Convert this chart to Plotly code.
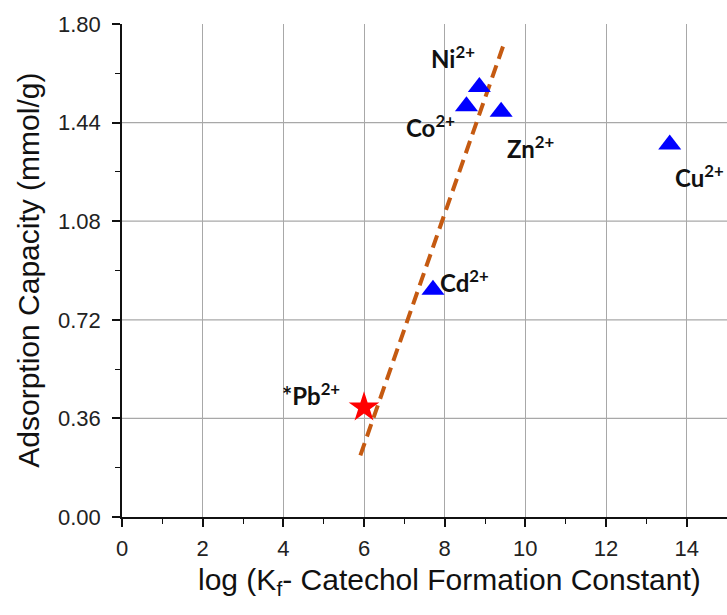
import plotly.graph_objects as go

# Data
METALS = ["Ni", "Co", "Zn", "Cu", "Cd"]
LOG_KF = [8.86, 8.54, 9.40, 13.58, 7.71]
CAPACITY = [1.57, 1.50, 1.48, 1.36, 0.83]

PB_LOG_KF = [6.0]
PB_CAPACITY = [0.40]

FIT_X = [5.91, 9.48]
FIT_Y = [0.225, 1.732]

X_TICKS = [0, 2, 4, 6, 8, 10, 12, 14]
Y_TICKS = [0.00, 0.36, 0.72, 1.08, 1.44, 1.80]
Y_TICK_TEXT = ["0.00", "0.36", "0.72", "1.08", "1.44", "1.80"]

# label offsets in pixels (layout only)
LABEL_SHIFT = {"Ni": (-26, 30), "Co": (-36, -20), "Zn": (29, -35),
               "Cu": (30, -31), "Cd": (32, 9)}

fig = go.Figure()

fig.add_trace(go.Scatter(
    x=FIT_X, y=FIT_Y, mode="lines",
    line=dict(color="#C55A11", width=4, dash="13px,7px"),
    showlegend=False, hoverinfo="skip"))

fig.add_trace(go.Scatter(
    x=LOG_KF, y=CAPACITY, mode="markers",
    marker=dict(symbol="triangle-up", size=20, color="#0000FF"),
    showlegend=False))

fig.add_trace(go.Scatter(
    x=PB_LOG_KF, y=PB_CAPACITY, mode="markers",
    marker=dict(symbol="star", size=23, color="#FF0000"),
    showlegend=False))

label_font = dict(family="Lato, 'Noto Sans', sans-serif", size=24, color="#111111")
annotations = []
for m, xv, yv in zip(METALS, LOG_KF, CAPACITY):
    dx, dy = LABEL_SHIFT[m]
    annotations.append(dict(
        x=xv, y=yv, xref="x", yref="y", text=f"<b>{m}<sup>2+</sup></b>",
        showarrow=False, xshift=dx, yshift=dy, font=label_font))
annotations.append(dict(
    x=PB_LOG_KF[0], y=PB_CAPACITY[0], xref="x", yref="y",
    text="<b>*Pb<sup>2+</sup></b>", showarrow=False, xshift=-53, yshift=13,
    font=label_font))

title_font = dict(family="Liberation Sans, Arial, sans-serif", size=30, color="#111111")
annotations.append(dict(
    x=0.542, y=-0.13, xref="paper", yref="paper",
    text="log (K<sub>f</sub>- Catechol Formation Constant)",
    showarrow=False, xanchor="center", yanchor="middle", font=title_font))
annotations.append(dict(
    x=-0.155, y=0.5, xref="paper", yref="paper",
    text="Adsorption Capacity (mmol/g)", textangle=-90,
    showarrow=False, xanchor="center", yanchor="middle", font=title_font))

shapes = []
for yv in Y_TICKS[1:-1]:
    shapes.append(dict(type="line", xref="paper", yref="y", x0=0, x1=1, y0=yv, y1=yv,
                       line=dict(color="#A8A8A8", width=1.3), layer="below"))

tick_font = dict(family="Liberation Sans, Arial, sans-serif", size=22, color="#222222")

fig.update_layout(
    width=727, height=615,
    margin=dict(l=122, r=0, t=24, b=98),
    paper_bgcolor="white", plot_bgcolor="white",
    annotations=annotations, shapes=shapes,
    xaxis=dict(
        range=[0, 15], tickvals=X_TICKS, ticktext=[str(v) for v in X_TICKS],
        showgrid=True, gridcolor="#A8A8A8", gridwidth=1.3, zeroline=False,
        showline=True, linecolor="#111111", linewidth=1.6,
        ticks="outside", ticklen=8, tickwidth=1.6, tickcolor="#111111",
        tickfont=tick_font, ticklabelstandoff=3,
        minor=dict(dtick=1, tick0=0, ticks="outside", ticklen=5, tickwidth=1.3,
                   tickcolor="#111111", showgrid=False),
    ),
    yaxis=dict(
        range=[0, 1.80], tickvals=Y_TICKS, ticktext=Y_TICK_TEXT,
        showgrid=False, zeroline=False,
        showline=True, linecolor="#111111", linewidth=1.6,
        ticks="outside", ticklen=8, tickwidth=1.6, tickcolor="#111111",
        tickfont=tick_font, ticklabelstandoff=7,
        minor=dict(dtick=0.18, tick0=0, ticks="outside", ticklen=5, tickwidth=1.3,
                   tickcolor="#111111", showgrid=False),
    ),
)

fig.write_html(
    "out.html",
    config={"displayModeBar": False},
    post_script="document.body.style.margin='0';document.body.style.overflow='hidden';",
)
